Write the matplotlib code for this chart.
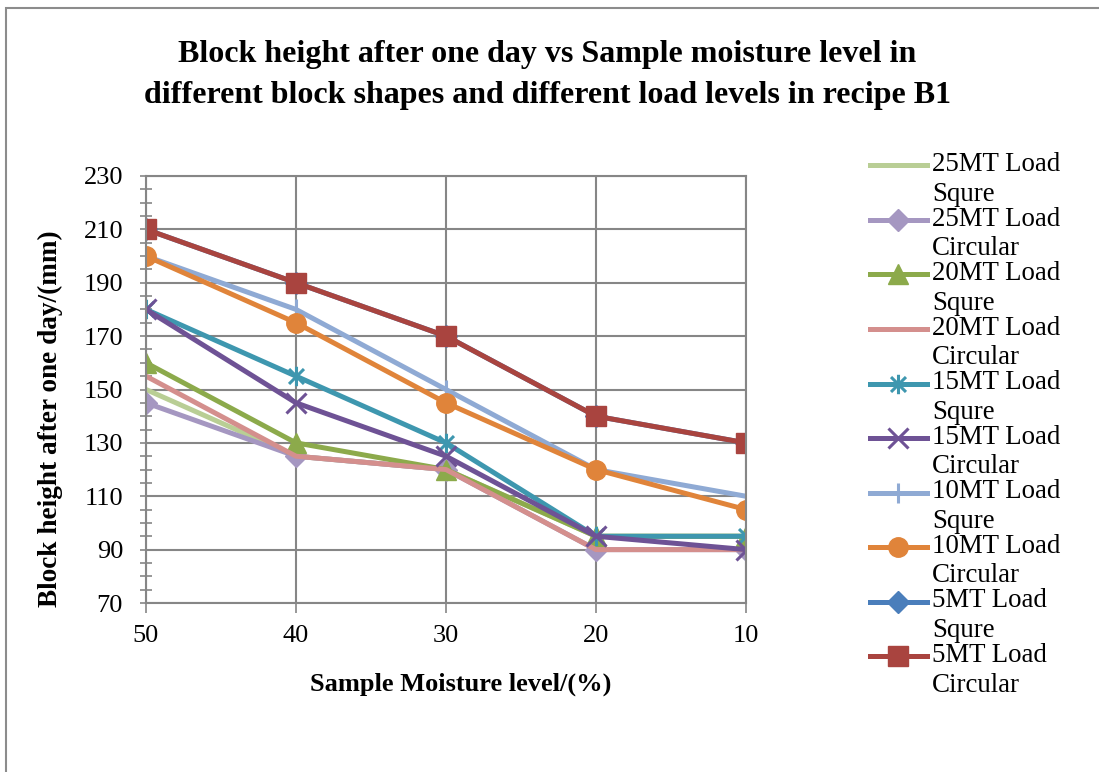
import numpy as np
import matplotlib
matplotlib.use("Agg")
import matplotlib.pyplot as plt
from matplotlib.path import Path
from matplotlib.patches import Rectangle
from matplotlib.ticker import MultipleLocator

plt.rcParams['font.family'] = ['Liberation Serif', 'DejaVu Serif']

# data
moisture = ["50", "40", "30", "20", "10"]
load_25_squre = [150, 125, 120, 95, 95]
load_25_circular = [145, 125, 120, 90, 90]
load_20_squre = [160, 130, 120, 95, 95]
load_20_circular = [155, 125, 120, 90, 90]
load_15_squre = [180, 155, 130, 95, 95]
load_15_circular = [180, 145, 125, 95, 90]
load_10_squre = [200, 180, 150, 120, 110]
load_10_circular = [200, 175, 145, 120, 105]
load_5_squre = [210, 190, 170, 140, 130]
load_5_circular = [210, 190, 170, 140, 130]
yticks = [70, 90, 110, 130, 150, 170, 190, 210, 230]

labels = ["25MT Load\nSqure", "25MT Load\nCircular", "20MT Load\nSqure", "20MT Load\nCircular",
          "15MT Load\nSqure", "15MT Load\nCircular", "10MT Load\nSqure", "10MT Load\nCircular",
          "5MT Load\nSqure", "5MT Load\nCircular"]

# excel style "star" marker: an x with a vertical bar
star = Path([(-1, -1), (1, 1), (-1, 1), (1, -1), (0, -1.3), (0, 1.3)],
            [Path.MOVETO, Path.LINETO, Path.MOVETO, Path.LINETO, Path.MOVETO, Path.LINETO])

series = [
    (load_25_squre, "#B9CE95", None, 0),
    (load_25_circular, "#A597C1", "D", 11),
    (load_20_squre, "#8CAA4B", "^", 14),
    (load_20_circular, "#D48F8D", None, 0),
    (load_15_squre, "#3E97AF", star, 14),
    (load_15_circular, "#6E5295", "x", 14),
    (load_10_squre, "#8FAAD4", "|", 14),
    (load_10_circular, "#E0843A", "o", 14),
    (load_5_squre, "#4A7EBB", "D", 11),
    (load_5_circular, "#A9443F", "s", 14),
]

fig = plt.figure(figsize=(10.99, 7.72), dpi=100)
ax = fig.add_axes([146 / 1099, 1 - 603 / 772, 600 / 1099, 427 / 772])

for (vals, col, mk, ms), lab in zip(series, labels):
    ax.plot(moisture, vals, color=col, lw=3.6, marker=mk, markersize=ms,
            markeredgewidth=2.2 if mk in ("x", "|") or mk is star else 1,
            markeredgecolor=col, markerfacecolor=col, label=lab)

ax.set_xlim(0, 4)
ax.set_ylim(70, 230)
ax.set_yticks(yticks)
ax.yaxis.set_minor_locator(MultipleLocator(5))
ax.grid(True, which='major', color='#868686', lw=1.5)
ax.set_axisbelow(True)
for s in ax.spines.values():
    s.set_color('#868686')
    s.set_linewidth(1.5)
ax.tick_params(axis='y', which='both', direction='inout', length=9, width=1.2,
               color='#868686', labelsize=19, pad=12)
ax.tick_params(axis='x', direction='out', length=7, width=1.2, color='#868686',
               labelsize=19, pad=9)

ax.set_xlabel("Sample Moisture level/(%)", fontsize=19, fontweight='bold')
ax.set_ylabel("Block height after one day/(mm)", fontsize=19.6, fontweight='bold')
ax.xaxis.set_label_coords(0.525, -0.162)
ax.yaxis.set_label_coords(-0.138, 0.431)

fig.text(0.498, 0.903, "Block height after one day vs Sample moisture level in\n"
         "different block shapes and different load levels in recipe B1",
         ha='center', va='center', fontsize=23, fontweight='bold', linespacing=1.55)

leg = ax.legend(loc='upper left', bbox_to_anchor=(870 / 1099, 1 - 152 / 772),
                bbox_transform=fig.transFigure, frameon=False, fontsize=19.4,
                handlelength=2.1, handletextpad=0.2, labelspacing=0.0,
                borderpad=0, borderaxespad=0)
for t in leg.get_texts():
    t.set_linespacing(1.24)
# put each handle next to the first line of its two-line label
for h in leg.legend_handles:
    h.set_ydata(np.asarray(h.get_ydata()) + 10.1)

fig.patches.append(Rectangle((6 / 1099, -0.05), 1.2, 1 - 8 / 772 + 0.05,
                             transform=fig.transFigure, fill=False,
                             edgecolor='#8C8C8C', lw=1.5))

fig.savefig("out.png", dpi=100)
